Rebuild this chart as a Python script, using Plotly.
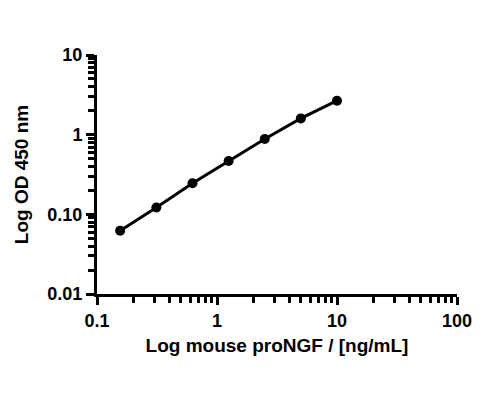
import plotly.graph_objects as go

conc = [0.156, 0.3125, 0.625, 1.25, 2.5, 5, 10]
od = [0.0624, 0.122, 0.245, 0.468, 0.883, 1.60, 2.67]

x_ticks = [0.1, 1, 10, 100]
x_ticktext = ["0.1", "1", "10", "100"]
y_ticks = [0.01, 0.1, 1, 10]
y_ticktext = ["0.01", "0.10", "1", "10"]

x_minor = [m * d for d in (0.1, 1, 10) for m in range(2, 10)]
y_minor = [m * d for d in (0.01, 0.1, 1) for m in range(2, 10)]

font_family = "Arial, Liberation Sans, sans-serif"

fig = go.Figure()
fig.add_trace(go.Scatter(
    x=conc, y=od, mode="lines+markers",
    line=dict(color="black", width=3),
    marker=dict(color="black", size=10),
    showlegend=False,
))

axis_common = dict(
    type="log",
    showline=True, linewidth=3, linecolor="black",
    ticks="outside", ticklen=8, tickwidth=3, tickcolor="black",
    showgrid=False, zeroline=False,
    tickmode="array",
    tickfont=dict(family=font_family, size=18, color="black", weight="bold"),
    mirror=False,
)

minor_common = dict(ticks="outside", ticklen=6, tickwidth=3, tickcolor="black",
                    tickmode="array", showgrid=False)

fig.update_layout(
    width=500, height=400,
    plot_bgcolor="white", paper_bgcolor="white",
    margin=dict(l=89, r=51, t=47, b=114),
    xaxis=dict(axis_common, range=[-1, 2], tickvals=x_ticks, ticktext=x_ticktext,
               minor=dict(minor_common, tickvals=x_minor),
               title=dict(text="Log mouse proNGF / [ng/mL]", standoff=10,
                          font=dict(family=font_family, size=19, color="black", weight="bold"))),
    yaxis=dict(axis_common, range=[-2, 1], tickvals=y_ticks, ticktext=y_ticktext,
               minor=dict(minor_common, tickvals=y_minor),
               title=dict(text="Log OD 450 nm", standoff=14,
                          font=dict(family=font_family, size=19, color="black", weight="bold"))),
)

fig.write_html("out.html")
